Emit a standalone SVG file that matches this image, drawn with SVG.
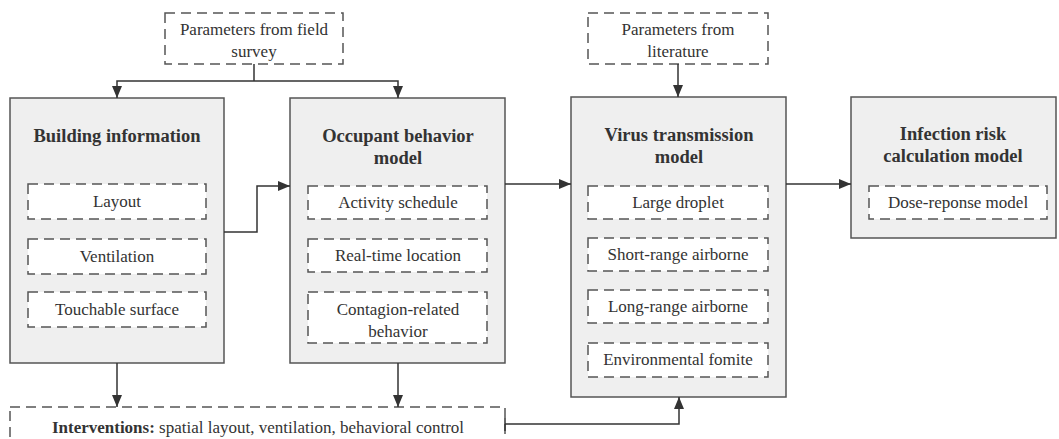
<svg xmlns="http://www.w3.org/2000/svg" width="1059" height="439" viewBox="0 0 1059 439">
<style>
text{font-family:"Liberation Serif","Times New Roman",serif;fill:#333;text-anchor:middle}
.t{font-size:18.5px;font-weight:bold}
.r{font-size:17px}
.box{fill:#efefef;stroke:#555;stroke-width:1.5}
.dash{fill:#fff;stroke:#555;stroke-width:1.5;stroke-dasharray:10 6}
.dashc{fill:none;stroke:#555;stroke-width:1.5;stroke-dasharray:10 6}
.c{fill:none;stroke:#333;stroke-width:1.5}
</style>
<defs>
<marker id="ah" viewBox="0 0 12 10" refX="12" refY="5" markerWidth="12" markerHeight="10" markerUnits="userSpaceOnUse" orient="auto">
<path d="M0,0 L12,5 L0,10 z" fill="#333"/>
</marker>
</defs>
<rect width="1059" height="439" fill="#fff"/>
<g id="field">
<rect class="dash" x="165" y="13" width="178" height="51"/>
<text class="r" x="254" y="35">Parameters from field</text>
<text class="r" x="254" y="57">survey</text>
</g>
<g id="literature">
<rect class="dash" x="588" y="13" width="180" height="51"/>
<text class="r" x="678" y="35">Parameters from</text>
<text class="r" x="678" y="57">literature</text>
</g>
<g id="building">
<rect class="box" x="10" y="98" width="214" height="265"/>
<text class="t" x="117" y="142">Building information</text>
<rect class="dash" x="28" y="184" width="178" height="35"/>
<text class="r" x="117" y="207">Layout</text>
<rect class="dash" x="28" y="239" width="178" height="35"/>
<text class="r" x="117" y="262">Ventilation</text>
<rect class="dash" x="28" y="292" width="178" height="35"/>
<text class="r" x="117" y="315">Touchable surface</text>
</g>
<g id="occupant">
<rect class="box" x="290" y="98" width="215" height="265"/>
<text class="t" x="398" y="142">Occupant behavior</text>
<text class="t" x="398" y="164">model</text>
<rect class="dash" x="308" y="186" width="179" height="33"/>
<text class="r" x="398" y="208">Activity schedule</text>
<rect class="dash" x="308" y="239" width="179" height="33"/>
<text class="r" x="398" y="261">Real-time location</text>
<rect class="dash" x="308" y="292" width="179" height="51"/>
<text class="r" x="398" y="315">Contagion-related</text>
<text class="r" x="398" y="337">behavior</text>
</g>
<g id="virus">
<rect class="box" x="571" y="97" width="215" height="300"/>
<text class="t" x="679" y="141">Virus transmission</text>
<text class="t" x="679" y="163">model</text>
<rect class="dash" x="588" y="186" width="180" height="33"/>
<text class="r" x="678" y="208">Large droplet</text>
<rect class="dash" x="588" y="238" width="180" height="33"/>
<text class="r" x="678" y="260">Short-range airborne</text>
<rect class="dash" x="588" y="290" width="180" height="33"/>
<text class="r" x="678" y="312">Long-range airborne</text>
<rect class="dash" x="588" y="343" width="180" height="34"/>
<text class="r" x="678" y="365">Environmental fomite</text>
</g>
<g id="infection">
<rect class="box" x="851" y="97" width="205" height="141"/>
<text class="t" x="953" y="140">Infection risk</text>
<text class="t" x="953" y="162">calculation model</text>
<rect class="dash" x="869" y="186" width="178" height="33"/>
<text class="r" x="958" y="208">Dose-reponse model</text>
</g>
<g id="interventions">
<rect class="dashc" x="10" y="407" width="495" height="40"/>
<text class="r" x="258" y="433"><tspan font-weight="bold">Interventions:</tspan> spatial layout, ventilation, behavioral control</text>
</g>
<g id="connectors">
<path class="c" d="M254,64 V81"/>
<path class="c" d="M254,81 H117 V98" marker-end="url(#ah)"/>
<path class="c" d="M254,81 H398 V98" marker-end="url(#ah)"/>
<path class="c" d="M678,64 V97" marker-end="url(#ah)"/>
<path class="c" d="M224,232 H257 V186 H290" marker-end="url(#ah)"/>
<path class="c" d="M505,184 H571" marker-end="url(#ah)"/>
<path class="c" d="M786,184 H851" marker-end="url(#ah)"/>
<path class="c" d="M117,363 V407" marker-end="url(#ah)"/>
<path class="c" d="M398,363 V407" marker-end="url(#ah)"/>
<path class="c" d="M505,418 V431"/>
<path class="c" d="M505,424 H679 V397" marker-end="url(#ah)"/>
</g>
</svg>
